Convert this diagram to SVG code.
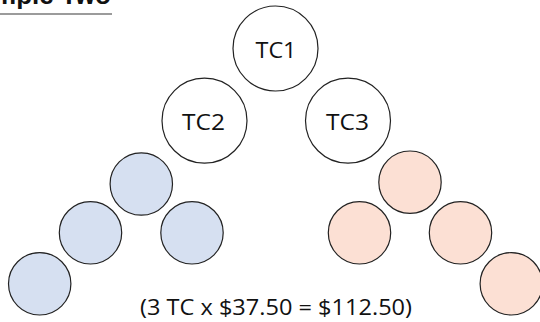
<svg xmlns="http://www.w3.org/2000/svg" width="540" height="322" viewBox="0 0 540 322">
<style>
.tc{fill:#ffffff;stroke:#222;stroke-width:1.2}
.b{fill:#d6e0f1;stroke:#222;stroke-width:1.2}
.p{fill:#fce0d4;stroke:#222;stroke-width:1.2}
.lbl{font-family:"Open Sans","Liberation Sans",sans-serif;font-size:21px;fill:#111;text-anchor:middle}
</style>
<rect width="540" height="322" fill="#ffffff"/>
<g id="title">
<text x="111" y="4" font-family="Liberation Sans, sans-serif" font-weight="bold" font-size="26" text-anchor="end" fill="#111">Example Two</text>
<line x1="0" y1="14" x2="112" y2="14" stroke="#7a7a7a" stroke-width="1.6"/>
</g>
<g id="connectors"></g>
<g id="tc1"><circle class="tc" cx="275.5" cy="48.5" r="42.5"/><text class="lbl" x="276" y="58.3" textLength="41" lengthAdjust="spacingAndGlyphs">TC1</text></g>
<g id="tc2"><circle class="tc" cx="204.5" cy="120.7" r="42.5"/><text class="lbl" x="203.5" y="130" textLength="43" lengthAdjust="spacingAndGlyphs">TC2</text></g>
<g id="tc3"><circle class="tc" cx="348" cy="120.7" r="42.5"/><text class="lbl" x="347.5" y="130" textLength="43" lengthAdjust="spacingAndGlyphs">TC3</text></g>
<g id="blue1"><circle class="b" cx="141.3" cy="184" r="31.2"/></g>
<g id="blue2"><circle class="b" cx="90.5" cy="232.8" r="31.2"/></g>
<g id="blue3"><circle class="b" cx="192" cy="232.8" r="31.2"/></g>
<g id="blue4"><circle class="b" cx="39.7" cy="283.8" r="31.2"/></g>
<g id="pink1"><circle class="p" cx="410" cy="182.2" r="31.2"/></g>
<g id="pink2"><circle class="p" cx="359.5" cy="232.8" r="31.2"/></g>
<g id="pink3"><circle class="p" cx="460.5" cy="232.8" r="31.2"/></g>
<g id="pink4"><circle class="p" cx="511.3" cy="283.8" r="31.2"/></g>
<g id="total"><text class="lbl" x="276" y="315" font-size="20.5" textLength="272" lengthAdjust="spacingAndGlyphs">(3 TC x $37.50 = $112.50)</text></g>
</svg>
